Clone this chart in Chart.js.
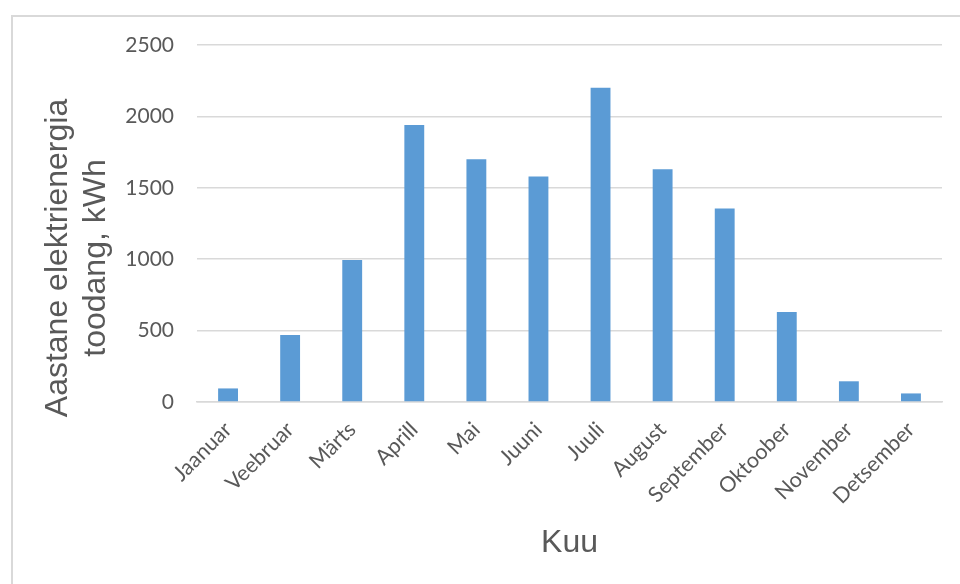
<!DOCTYPE html>
<html lang="et">
<head>
<meta charset="utf-8">
<title>Aastane elektrienergia toodang</title>
<script src="https://cdn.jsdelivr.net/npm/chart.js@4.4.1/dist/chart.umd.min.js"></script>
<style>
    html, body { margin: 0; padding: 0; background: #ffffff; overflow: hidden; }
    #wrap { position: relative; width: 960px; height: 584px; }
    #frame {
        position: absolute; left: 11px; top: 15px; width: 960px; height: 600px;
        border-left: 2px solid #d9d9d9; border-top: 2px solid #d9d9d9;
        box-sizing: border-box; pointer-events: none;
    }
    #chart { position: absolute; left: 0; top: 0; }
</style>
</head>
<body>
<div id="wrap">
    <div id="frame"></div>
    <canvas id="chart" width="960" height="584"></canvas>
</div>
<script>
const months = ['Jaanuar', 'Veebruar', 'Märts', 'Aprill', 'Mai', 'Juuni',
    'Juuli', 'August', 'September', 'Oktoober', 'November', 'Detsember'];
const production = [95, 470, 995, 1940, 1700, 1580, 2200, 1630, 1355, 630, 145, 60];
const yTicks = [0, 500, 1000, 1500, 2000, 2500];
const yTitle = ['Aastane elektrienergia', 'toodang, kWh'];
const xTitle = 'Kuu';

const textColor = '#595959';
const gridColor = '#d9d9d9';
const barColor = '#5b9bd5';

// vertical axis title, two lines, centred a bit lower than the plot
const yTitlePlugin = {
    id: 'yTitle',
    afterDraw(chart) {
        const ctx = chart.ctx;
        ctx.save();
        ctx.fillStyle = textColor;
        ctx.font = '32px "Liberation Sans", Arial, sans-serif';
        ctx.textAlign = 'center';
        ctx.textBaseline = 'alphabetic';
        const cy = 258;
        [67, 105].forEach((bx, i) => {
            ctx.save();
            ctx.translate(bx, cy);
            ctx.rotate(-Math.PI / 2);
            ctx.fillText(yTitle[i], 0, 0);
            ctx.restore();
        });
        ctx.restore();
    }
};

new Chart(document.getElementById('chart').getContext('2d'), {
    type: 'bar',
    data: {
        labels: months,
        datasets: [{
            data: production,
            backgroundColor: barColor,
            borderWidth: 0,
            categoryPercentage: 1,
            barPercentage: 0.32
        }]
    },
    options: {
        responsive: false,
        animation: false,
        layout: { padding: { top: 45, right: 18, left: 0, bottom: 0 } },
        plugins: {
            legend: { display: false },
            tooltip: { enabled: false }
        },
        scales: {
            x: {
                grid: { display: false, drawTicks: false },
                border: { display: true, color: gridColor, width: 1.5 },
                ticks: {
                    color: textColor,
                    font: { family: 'Lato, sans-serif', size: 21.5 },
                    minRotation: 45,
                    maxRotation: 45,
                    padding: 15,
                    autoSkip: false
                },
                title: {
                    display: true,
                    text: xTitle,
                    color: textColor,
                    font: { family: '"Liberation Sans", Arial, sans-serif', size: 32 },
                    padding: { top: 0, bottom: 22 }
                },
                afterFit(scale) { scale.height = 182; }
            },
            y: {
                min: 0,
                max: 2500,
                afterBuildTicks(scale) { scale.ticks = yTicks.map(v => ({ value: v })); },
                grid: { color: gridColor, lineWidth: 1.5, drawTicks: false },
                border: { display: false },
                ticks: {
                    color: textColor,
                    font: { family: 'Lato, sans-serif', size: 21 },
                    padding: 23,
                    callback: v => String(v)
                },
                afterFit(scale) { scale.width = 197; }
            }
        }
    },
    plugins: [yTitlePlugin]
});
</script>
</body>
</html>
